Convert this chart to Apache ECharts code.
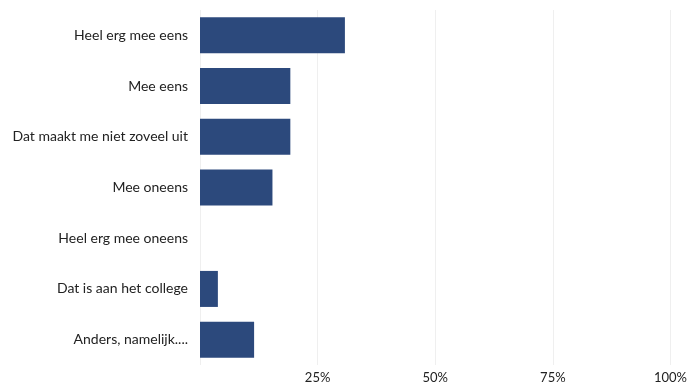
<!DOCTYPE html>
<html lang="nl">
<head>
    <meta charset="UTF-8">
    <title>Chart</title>
    <script src="https://cdn.jsdelivr.net/npm/echarts@6/dist/echarts.min.js"></script>
    <style>
        html, body { margin: 0; padding: 0; background: #fff; }
        #chart { width: 690px; height: 387px; }
    </style>
</head>
<body>
    <div id="chart"></div>
    <script>
        var categories = [
            'Heel erg mee eens',
            'Mee eens',
            'Dat maakt me niet zoveel uit',
            'Mee oneens',
            'Heel erg mee oneens',
            'Dat is aan het college',
            'Anders, namelijk....'
        ];
        // percentages
        var values = [30.8, 19.2, 19.2, 15.4, 0, 3.8, 11.5];

        var chart = echarts.init(document.getElementById('chart'));
        chart.setOption({
            animation: false,
            grid: { left: 200, right: 17, top: 10, bottom: 22 },
            xAxis: {
                type: 'value',
                min: 0,
                max: 100,
                interval: 25,
                axisLine: { show: false },
                axisTick: { show: false },
                splitLine: { lineStyle: { color: '#efefef', width: 1 } },
                axisLabel: {
                    color: '#222',
                    fontFamily: 'Lato',
                    fontSize: 13,
                    margin: 6,
                    formatter: function (v) { return v === 0 ? '' : v + '%'; }
                }
            },
            yAxis: {
                type: 'category',
                inverse: true,
                data: categories,
                axisLine: { show: false },
                axisTick: { show: false },
                axisLabel: {
                    color: '#222',
                    fontFamily: 'Lato',
                    fontSize: 14,
                    margin: 12
                }
            },
            series: [{
                type: 'bar',
                data: values,
                barWidth: '71%',
                itemStyle: {
                    color: '#2c497c'
                }
            }]
        });
    </script>
</body>
</html>
